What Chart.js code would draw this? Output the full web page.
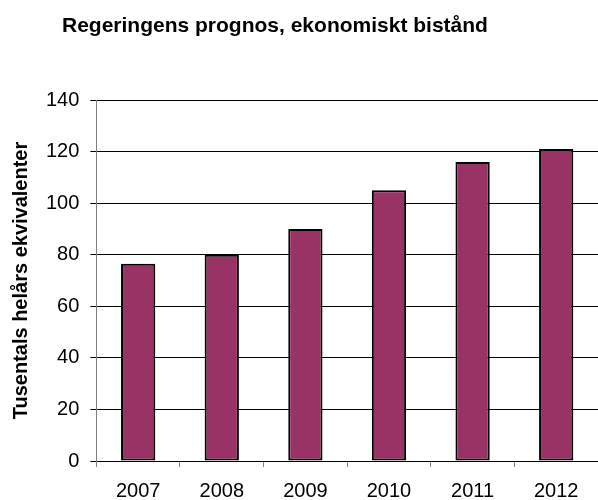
<!DOCTYPE html>
<html lang="sv">
<head>
  <meta charset="UTF-8">
  <title>Regeringens prognos, ekonomiskt bistånd</title>
  <script src="https://cdn.jsdelivr.net/npm/chart.js"></script>
  <style>
    html, body { margin: 0; padding: 0; background: #fff; }
    #wrap { width: 598px; height: 500px; }
  </style>
</head>
<body>
<div id="wrap"><canvas id="biChart"></canvas></div>
<script>
  const years = ['2007', '2008', '2009', '2010', '2011', '2012'];
  const helarsEkv = [76.5, 80, 90, 105, 116, 121];
  const chartTitle = 'Regeringens prognos, ekonomiskt bistånd';
  const yTitle = 'Tusentals helårs ekvivalenter';

  // title sits left of center in the original, so draw it by hand
  const titlePlugin = {
    id: 'leftTitle',
    afterDraw(chart) {
      const c = chart.ctx;
      c.save();
      c.font = 'bold 21px "Liberation Sans", Arial, sans-serif';
      c.fillStyle = '#000';
      c.textBaseline = 'alphabetic';
      c.fillText(chartTitle, 62, 32);
      c.restore();
    }
  };

  Chart.defaults.font.family = '"Liberation Sans", Arial, sans-serif';
  Chart.defaults.color = '#000';

  new Chart(document.getElementById('biChart'), {
    type: 'bar',
    data: {
      labels: years,
      datasets: [{
        data: helarsEkv,
        backgroundColor: '#993366',
        borderColor: '#000',
        borderWidth: 2,
        borderSkipped: false,
        barPercentage: 0.41,
        categoryPercentage: 1
      }]
    },
    options: {
      responsive: true,
      maintainAspectRatio: false,
      animation: false,
      layout: { padding: { top: 100, right: 0, bottom: -15, left: 9 } },
      plugins: {
        legend: { display: false },
        tooltip: { enabled: false }
      },
      scales: {
        x: {
          grid: { drawOnChartArea: false, color: '#808080', tickLength: 6, offset: true },
          border: { color: '#000' },
          ticks: { font: { size: 20 }, padding: 12 }
        },
        y: {
          min: 0,
          max: 140,
          ticks: { stepSize: 20, font: { size: 20 }, padding: 11 },
          grid: { color: '#000', lineWidth: 1, tickLength: 6 },
          border: { color: '#808080' },
          title: {
            display: true,
            text: yTitle,
            font: { size: 20, weight: 'bold' },
            padding: { top: 0, bottom: 2 }
          }
        }
      }
    },
    plugins: [titlePlugin]
  });
</script>
</body>
</html>
